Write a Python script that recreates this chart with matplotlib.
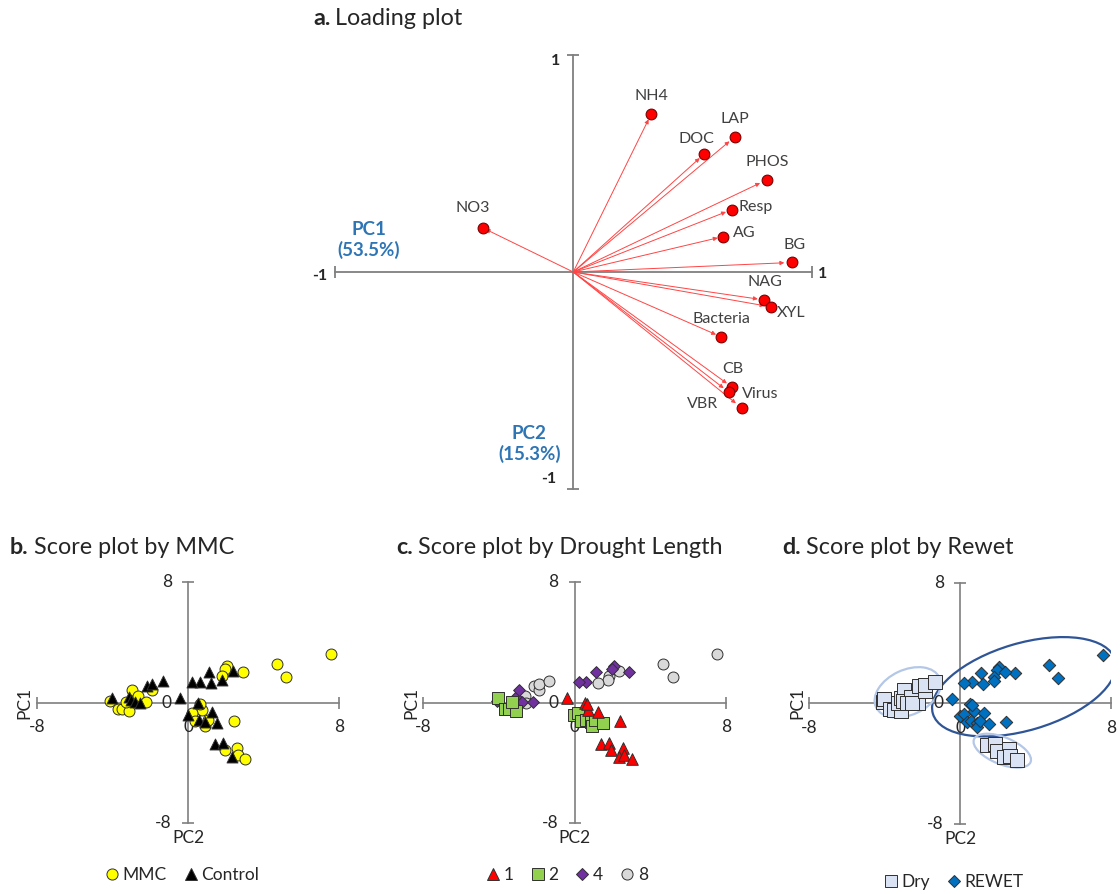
import matplotlib
matplotlib.use("Agg")
import matplotlib.pyplot as plt
from matplotlib.patches import Ellipse
from matplotlib import transforms
from matplotlib.lines import Line2D

plt.rcParams['font.family'] = ['Lato', 'DejaVu Sans']

# ---------------- loadings ----------------
variables = ['NH4', 'LAP', 'DOC', 'PHOS', 'Resp', 'AG', 'BG', 'NAG', 'XYL',
             'Bacteria', 'CB', 'VBR', 'Virus', 'NO3']
load_pc1 = [0.327, 0.678, 0.549, 0.811, 0.663, 0.627, 0.916, 0.801, 0.830,
            0.620, 0.667, 0.653, 0.706, -0.380]
load_pc2 = [0.729, 0.624, 0.544, 0.425, 0.287, 0.163, 0.044, -0.129, -0.161,
            -0.299, -0.532, -0.555, -0.627, 0.204]
pc1_label = 'PC1\n(53.5%)'
pc2_label = 'PC2\n(15.3%)'

# ---------------- sample scores ----------------
score_x = [7.55, 4.70, 5.20,
           2.90, 2.07, 1.98, 2.36, 1.80, 1.78, 1.22, 1.12, 0.63, 0.22,
           -4.10, -4.03, -3.70, -3.48, -3.12, -3.30, -3.12, -2.95, -3.00, -2.62,
           -2.80, -2.22, -2.55, -2.15, -1.88, -1.88, -1.34,
           -0.42, 0.55, 0.72, 1.25, 2.42, -0.02, 0.20, 0.35, 0.60, 0.88, 0.90,
           1.08, 1.52, 0.66,
           1.42, 1.83, 1.95, 2.58, 2.34, 2.64, 3.03]
score_y = [3.18, 2.52, 1.66,
           2.01, 2.43, 2.22, 2.09, 1.76, 1.50, 1.26, 2.04, 1.39, 1.35,
           0.08, 0.30, -0.40, -0.46, -0.54, 0.04, 0.36, 0.86, 0.15, 0.40,
           0.03, 0.05, 0.00, 1.12, 0.80, 1.24, 1.42,
           0.32, -0.05, -0.48, -0.62, -1.24, -0.86, -0.72, -1.22, -1.17, -1.30,
           -1.58, -1.17, -1.38, -0.12,
           -2.78, -2.70, -3.15, -3.00, -3.58, -3.50, -3.77]
treatment = ['MMC', 'MMC', 'MMC',
             'MMC', 'MMC', 'MMC', 'Control', 'MMC', 'Control', 'Control',
             'Control', 'Control', 'Control',
             'MMC', 'Control', 'MMC', 'MMC', 'MMC', 'MMC', 'Control', 'MMC',
             'Control', 'MMC', 'Control', 'MMC', 'Control', 'Control', 'MMC',
             'Control', 'Control',
             'Control', 'Control', 'MMC', 'Control', 'MMC', 'Control', 'MMC',
             'MMC', 'Control', 'Control', 'MMC', 'MMC', 'Control', 'MMC',
             'Control', 'Control', 'MMC', 'MMC', 'Control', 'MMC', 'MMC']
drought = [8, 8, 8,
           4, 4, 4, 8, 8, 8, 8, 4, 4, 4,
           4, 2, 2, 2, 2, 2, 4, 4, 8, 8, 4, 4, 8, 8, 8, 8, 8,
           1, 1, 1, 1, 1, 2, 2, 2, 2, 2, 2, 2, 2, 1,
           1, 1, 1, 1, 1, 1, 1]
state = ['REWET'] * 13 + ['Dry'] * 17 + ['REWET'] * 14 + ['Dry'] * 7

W, H = 1120, 894
fig = plt.figure(figsize=(W / 100, H / 100), dpi=100)


def fx(px):
    return px / W


def fy(py):
    return 1 - py / H


def px_axes(left, right, top, bottom):
    return fig.add_axes([fx(left), fy(bottom), (right - left) / W, (bottom - top) / H])


axis_gray = '#7F7F7F'
text_dark = '#262626'

# ---------------- a. Loading plot ----------------
axa = px_axes(334.5, 812, 55, 489)
axa.set_xlim(-1, 1)
axa.set_ylim(-1, 1)
axa.axis('off')
axa.plot([-1, 1], [0, 0], color=axis_gray, lw=1.3, zorder=1, clip_on=False)
axa.plot([0, 0], [-1, 1], color=axis_gray, lw=1.3, zorder=1, clip_on=False)
axa.plot([-1, 1], [0, 0], ls='none', marker='|', ms=9, mew=1.3,
         color=axis_gray, clip_on=False)
axa.plot([0, 0], [-1, 1], ls='none', marker='_', ms=9, mew=1.3,
         color=axis_gray, clip_on=False)

for x, y in zip(load_pc1, load_pc2):
    axa.annotate('', xy=(0.965 * x, 0.965 * y), xytext=(0, 0),
                 arrowprops=dict(arrowstyle='-|>', color='#FF4444', lw=0.7,
                                 mutation_scale=6, shrinkA=0, shrinkB=0),
                 zorder=2)
axa.scatter(load_pc1, load_pc2, s=60, color='#FF0000', edgecolors='#7A0000',
            linewidths=0.8, zorder=3)

label_place = {
    'NH4': (0, 18, 'center'), 'LAP': (0, 18, 'center'), 'DOC': (-8, 15, 'center'),
    'PHOS': (0, 18, 'center'), 'Resp': (7, 3, 'left'), 'AG': (10, 4, 'left'),
    'BG': (3, 17, 'center'), 'NAG': (0, 18, 'center'), 'XYL': (5, -6, 'left'),
    'Bacteria': (0, 18, 'center'), 'CB': (0, 18, 'center'), 'VBR': (-11, -12, 'right'),
    'Virus': (0, 14, 'left'), 'NO3': (-10, 20, 'center'),
}
for name, x, y in zip(variables, load_pc1, load_pc2):
    dx, dy, ha = label_place[name]
    axa.annotate(name, xy=(x, y), xytext=(dx, dy), textcoords='offset pixels',
                 ha=ha, va='center', fontsize=11.5, color='#404040')

blue = '#2E75B6'
axa.annotate(pc1_label, xy=(-1, 0), xytext=(34, 32), textcoords='offset pixels',
             ha='center', va='center', fontsize=13.5, fontweight='bold',
             color=blue, linespacing=1.2)
axa.annotate(pc2_label, xy=(0, -1), xytext=(-44, 45), textcoords='offset pixels',
             ha='center', va='center', fontsize=13.5, fontweight='bold',
             color=blue, linespacing=1.2)
end_kw = dict(textcoords='offset pixels', va='center', fontsize=11.5,
              fontweight='bold', color=text_dark)
axa.annotate('1', xy=(0, 1), xytext=(-18, -6), ha='center', **end_kw)
axa.annotate('-1', xy=(0, -1), xytext=(-25, 10), ha='center', **end_kw)
axa.annotate('-1', xy=(-1, 0), xytext=(-15, -4), ha='center', **end_kw)
axa.annotate('1', xy=(1, 0), xytext=(11, -2), ha='center', **end_kw)


# ---------------- score plots ----------------
def score_frame(ax):
    ax.set_xlim(-8, 8)
    ax.set_ylim(-8, 8)
    ax.axis('off')
    ax.plot([-8, 8], [0, 0], color=axis_gray, lw=1.2, zorder=1, clip_on=False)
    ax.plot([0, 0], [-8, 8], color=axis_gray, lw=1.2, zorder=1, clip_on=False)
    ax.plot([-8, 8], [0, 0], ls='none', marker='|', ms=9, mew=1.2,
            color=axis_gray, clip_on=False)
    ax.plot([0, 0], [-8, 8], ls='none', marker='_', ms=9, mew=1.2,
            color=axis_gray, clip_on=False)
    kw = dict(textcoords='offset pixels', fontsize=12.5, color=text_dark,
              va='center', annotation_clip=False)
    for v in (8, 0, -8):
        ax.annotate(str(v), xy=(0, v), xytext=(-16, 0), ha='right', **kw)
        ax.annotate(str(v), xy=(v, 0), xytext=(0, -25), ha='center', **kw)
    ax.annotate('PC1', xy=(-8, 0), xytext=(-12, 0), ha='center', rotation=90,
                **kw)
    ax.annotate('PC2', xy=(0, -8), xytext=(0, -15), ha='center', **kw)


def pick(values, key):
    return [i for i, v in enumerate(values) if v == key]


def sel(idx):
    return [score_x[i] for i in idx], [score_y[i] for i in idx]


def bottom_legend(ax, handles, labels, cx, cy):
    ax.legend(handles, labels, loc='center', bbox_to_anchor=(fx(cx), fy(cy)),
              bbox_transform=fig.transFigure, ncol=len(handles), frameon=False,
              fontsize=12.5, handletextpad=0.1, columnspacing=0.9,
              handlelength=1.0, labelcolor=text_dark)


edge = '#303030'

# b. by MMC
axb = px_axes(36.7, 339.3, 581.7, 823.3)
score_frame(axb)
mmc_style = {
    'MMC': dict(marker='o', s=62, color='#FFFF00'),
    'Control': dict(marker='^', s=62, color='#000000'),
}
hb = []
for key in ['MMC', 'Control']:
    xs, ys = sel(pick(treatment, key))
    st = mmc_style[key]
    axb.scatter(xs, ys, marker=st['marker'], s=st['s'], color=st['color'],
                edgecolors=edge, linewidths=0.7, zorder=3)
    hb.append(Line2D([], [], ls='none', marker=st['marker'], ms=8,
                     mfc=st['color'], mec=edge, mew=0.7))
bottom_legend(axb, hb, ['MMC', 'Control'], 181, 875)

# c. by drought length
axc = px_axes(423.3, 725.7, 581.7, 823.3)
score_frame(axc)
drought_style = {
    1: dict(marker='^', s=70, color='#FF0000'),
    2: dict(marker='s', s=80, color='#92D050'),
    4: dict(marker='D', s=36, color='#7030A0'),
    8: dict(marker='o', s=62, color='#D9D9D9'),
}
hc = []
for key in [8, 4, 2, 1]:
    xs, ys = sel(pick(drought, key))
    st = drought_style[key]
    axc.scatter(xs, ys, marker=st['marker'], s=st['s'], color=st['color'],
                edgecolors=edge, linewidths=0.7, zorder=3)
for key in [1, 2, 4, 8]:
    st = drought_style[key]
    hc.append(Line2D([], [], ls='none', marker=st['marker'],
                     ms=8 if key != 4 else 6, mfc=st['color'], mec=edge, mew=0.7))
bottom_legend(axc, hc, ['1', '2', '4', '8'], 566, 875)

# d. by rewet
axd = px_axes(809, 1111, 582.7, 824)
score_frame(axd)
rewet_style = {
    'Dry': dict(marker='s', s=95, color='#DAE3F3'),
    'REWET': dict(marker='D', s=40, color='#0070C0'),
}
hd = []
for key in ['Dry', 'REWET']:
    xs, ys = sel(pick(state, key))
    st = rewet_style[key]
    axd.scatter(xs, ys, marker=st['marker'], s=st['s'], color=st['color'],
                edgecolors=edge, linewidths=0.7, zorder=3)
    hd.append(Line2D([], [], ls='none', marker=st['marker'],
                     ms=9 if key == 'Dry' else 6.5, mfc=st['color'], mec=edge,
                     mew=0.7))
bottom_legend(axd, hd, ['Dry', 'REWET'], 953, 882)

# group outlines: centre in data units, size in inches, tilt in degrees
outlines = [
    ((3.39, 1.10), 1.90, 0.87, 16.5, '#2F5597'),
    ((-2.77, 0.73), 0.70, 0.45, 25.0, '#B4C7E7'),
    ((2.24, -3.14), 0.61, 0.27, -22.0, '#B4C7E7'),
]
for (cx, cy), w, h, ang, col in outlines:
    tr = fig.dpi_scale_trans + transforms.ScaledTranslation(cx, cy, axd.transData)
    axd.add_patch(Ellipse((0, 0), w, h, angle=ang, transform=tr, fill=False,
                          edgecolor=col, lw=1.6, zorder=2))

# panel titles: bold tag followed by plain text
fig.canvas.draw()
for x, y, tag, text in [(313, 25, 'a.', 'Loading plot'),
                        (10, 554, 'b.', 'Score plot by MMC'),
                        (396, 554, 'c.', 'Score plot by Drought Length'),
                        (782, 554, 'd.', 'Score plot by Rewet')]:
    t = fig.text(fx(x), fy(y), tag, fontsize=16.8, fontweight='bold',
                 color=text_dark, va='baseline', ha='left')
    fig.canvas.draw()
    bb = t.get_window_extent()
    fig.text(bb.x1 / W + 5 / W, fy(y), text, fontsize=16.8, color=text_dark,
             va='baseline', ha='left')

fig.savefig('out.png', dpi=100)
